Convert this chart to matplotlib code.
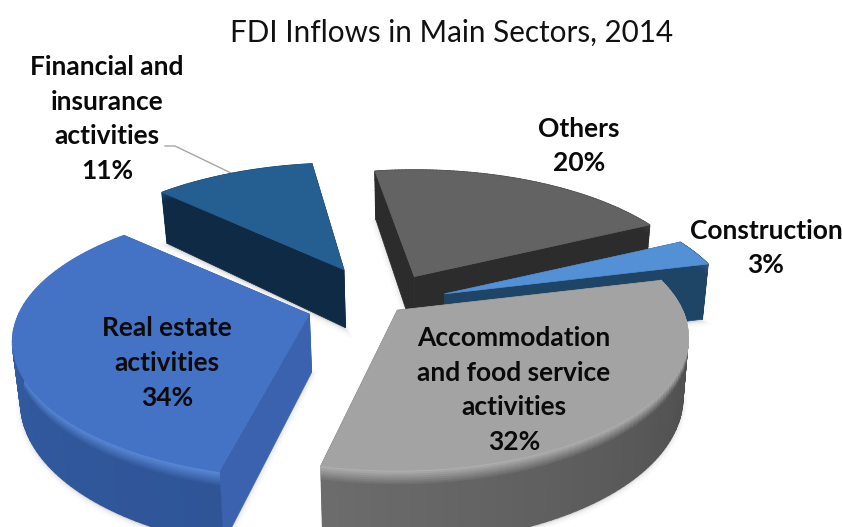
import numpy as np
import matplotlib
matplotlib.use('Agg')
import matplotlib.pyplot as plt
from matplotlib.collections import PolyCollection
from matplotlib.colors import to_rgb

plt.rcParams['font.family'] = ['Lato', 'DejaVu Sans']

title = 'FDI Inflows in Main Sectors, 2014'
categories = ['Others', 'Construction', 'Accommodation\nand food service\nactivities', 'Real estate\nactivities', 'Financial and\ninsurance\nactivities']
values = [20.4, 3.3, 32.4, 33.6, 10.8]

# look of each slice, same order as values
explode = [0.24, 0.23, 0.07, 0.27, 0.30]
size = [1, 1, 1, 1.02, 1]
start_nudge = [0, 0, 0, 2, 0]
top_colors = ['#636363', '#5490d6', '#a3a3a3', '#4472c4', '#255e91']
rim_colors = ['#3a3a3a', '#2a5a85', '#b0b0b0', '#5a88d8', '#1a4a75']
wall_start = ['#2c2c2c', '#1f4566', '#454545', '#2f5597', '#0f2a44']
wall_end = ['#2c2c2c', '#1f4566', '#6c6c6c', '#345ea6', '#0f2a44']
side_colors = ['#2c2c2c', '#1f4566', '#5a5a5a', '#3b62ae', '#0f2a44']
label_pos = [(579, 146), (766, 248), (514, 390), (167, 363), (107, 119)]

start_angle = -9.5
cx, cy = 383, 304     # pie centre before exploding
R, a, p, depth = 285, 128, 0.2, 58


def project(apex, theta, r, z):
    X = r * np.sin(np.radians(theta))
    Y = r * np.cos(np.radians(theta))
    w = 1 + p * Y
    x = apex[0] + R * X / w
    y = apex[1] - a * Y / w + depth * z / w
    x = x + 0.02 * z * (420 - x)
    return x, y


fig = plt.figure(figsize=(8.42, 5.27), dpi=100)
ax = fig.add_axes([0, 0, 1, 1])
ax.set_xlim(0, 842)
ax.set_ylim(527, 0)
ax.axis('off')

angles = start_angle + np.cumsum([0] + values) * 3.6
slices = []
for i in range(len(values)):
    mid = (angles[i] + angles[i + 1]) / 2
    u = explode[i] * R
    apex = (cx + u * np.sin(np.radians(mid)), cy - 0.45 * u * np.cos(np.radians(mid)))
    slices.append((i, apex, angles[i] + start_nudge[i], angles[i + 1]))

# back slices first, front ones over them
draw_order = [4, 0, 1, 3, 2]
for n, i in enumerate(draw_order):
    _, apex, t0, t1 = slices[i]
    zo = 10 + n * 5
    th = np.linspace(t0, t1, 90)
    r = size[i]

    # soft shadow under the slice
    bx, by = project(apex, th, r, 1)
    ax0, ay0 = project(apex, 0, 0, 1)
    for lw, al in zip([7, 4, 2], [0.02, 0.025, 0.03]):
        ax.fill(np.r_[ax0, bx], np.r_[ay0, by] + 2, color='black', alpha=al, lw=lw, zorder=zo)

    # flat sides
    for t in (t0, t1):
        px, py = project(apex, np.array([0, t, t, 0]), np.array([0, r, r, 0]), np.array([0, 0, 1, 1]))
        ax.fill(px, py, color=side_colors[i], lw=0.5, zorder=zo + 1)

    # outer wall, shaded down the height and along the arc
    zs = np.r_[np.linspace(0, 0.2, 8), np.linspace(0.2, 1, 5)[1:]]
    quads, cols = [], []
    c_rim = np.array(to_rgb(rim_colors[i]))
    c_a = np.array(to_rgb(wall_start[i]))
    c_b = np.array(to_rgb(wall_end[i]))
    for j in range(len(th) - 1):
        f = j / (len(th) - 2)
        c_wall = c_a + (c_b - c_a) * f
        for k in range(len(zs) - 1):
            x0, y0 = project(apex, th[j], r, zs[k])
            x1, y1 = project(apex, th[j + 1], r, zs[k])
            x2, y2 = project(apex, th[j + 1], r, zs[k + 1])
            x3, y3 = project(apex, th[j], r, zs[k + 1])
            quads.append([(x0, y0), (x1, y1), (x2, y2), (x3, y3)])
            g = min(zs[k] / 0.2, 1)
            cols.append(c_rim + (c_wall - c_rim) * g)
    ax.add_collection(PolyCollection(quads, facecolors=cols, edgecolors=cols, linewidths=1.0, zorder=zo + 2))

    # top face
    tx, ty = project(apex, th, r, 0)
    ax0, ay0 = project(apex, 0, 0, 0)
    ax.fill(np.r_[ax0, tx], np.r_[ay0, ty], color=top_colors[i], lw=0.5, zorder=zo + 3)

ax.text(452, 33, title, ha='center', va='center', fontsize=21.3, color='#111111', zorder=60)

for i in range(len(values)):
    ax.text(label_pos[i][0], label_pos[i][1], '{}\n{}%'.format(categories[i], round(values[i])),
            ha='center', va='center', fontsize=19, fontweight='bold', color='#0a0a0a',
            linespacing=1.53, zorder=60)

# leader line for the financial label
ax.plot([165, 175, 231], [146, 146, 173], color='#a6a6a6', lw=1, zorder=5)

plt.savefig('out.png', dpi=100)
